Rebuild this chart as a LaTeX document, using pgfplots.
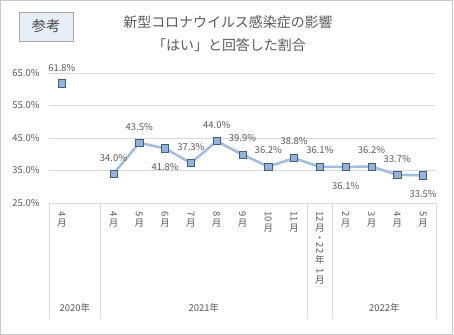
\documentclass[border=0pt]{standalone}
\usepackage{pgfplots}
\pgfplotsset{compat=1.18}
\usepackage{pgfplotstable}
\usepackage{graphicx}
\usepackage{fontspec}
\setmainfont{Noto Sans CJK JP}
\definecolor{txt}{HTML}{595959}
\definecolor{grd}{HTML}{D9D9D9}
\definecolor{lin}{HTML}{A3BDDB}
\definecolor{mfill}{HTML}{95B3D7}
\definecolor{mdraw}{HTML}{3F5F80}
\definecolor{boxfill}{HTML}{E8EEF6}
\pgfplotstableread{
x y d
0 61.8 15
1 nan 0
2 34.0 16
3 43.5 16
4 41.8 -19
5 37.3 16
6 44.0 16
7 39.9 17
8 36.2 17
9 38.8 17
10 36.1 17
11 36.1 -19
12 36.2 17
13 33.7 16
14 33.5 -19
}\datatable
\newcommand{\rn}[1]{\raisebox{\depth}{\rotatebox{-90}{#1}}}
\begin{document}
\begin{tikzpicture}
\useasboundingbox (0bp,0bp) rectangle (454bp,335bp);
\draw[grd!80!gray, line width=0.6pt] (0.5bp,0.5bp) rectangle (452.5bp,334.5bp);
\draw[fill=boxfill, draw=gray!70, line width=0.8pt] (19bp,294bp) rectangle (73bp,323bp);
\node[text=txt!80!black, font=\fontsize{14.5}{16}\selectfont] at (46bp,308.5bp) {参考};
\node[text=txt, font=\fontsize{14}{16}\selectfont] at (228bp,313bp) {新型コロナウイルス感染症の影響};
\node[text=txt, font=\fontsize{14}{16}\selectfont] at (229bp,290bp) {「はい」と回答した割合};
\begin{axis}[
  at={(49bp,132bp)}, anchor=south west,
  scale only axis, width=387bp, height=130bp,
  xmin=-0.5, xmax=14.5, ymin=25, ymax=65,
  ytick={25,35,45,55,65},
  yticklabel={\pgfmathprintnumber[fixed,precision=1,fixed zerofill]{\tick}\%},
  /pgf/number format/assume math mode=true,
  yticklabel style={text=txt, font=\fontsize{9.5}{10}\selectfont, xshift=-6bp},
  ymajorgrids, grid style={grd, line width=0.7pt},
  axis y line*=left, y axis line style={draw=none},
  axis x line*=bottom, x axis line style={grd, line width=0.7pt},
  ytick style={draw=none},
  xtick={0,...,14},
  xticklabels={{\rn{4}\\月},{},{\rn{4}\\月},{\rn{5}\\月},{\rn{6}\\月},{\rn{7}\\月},{\rn{8}\\月},{\rn{9}\\月},{\rn{10}\\月},{\rn{11}\\月},{\rn{12}\\月\\・\\\rn{22}\\年\\\rn{1}\\月},{\rn{2}\\月},{\rn{3}\\月},{\rn{4}\\月},{\rn{5}\\月}},
  xticklabel style={text=txt, font=\fontsize{9.5}{10}\selectfont, align=center, anchor=north, yshift=-5bp},
  xtick style={draw=none},
  extra x ticks={-0.5,1.5,9.5,10.5,14.5},
  extra x tick labels={},
  extra x tick style={grid=none, xtick style={draw=grd, line width=0.7pt}, tick align=outside, major tick length=116bp},
  clip=false,
  unbounded coords=jump,
  nodes near coords={\pgfmathprintnumber[fixed,precision=1,fixed zerofill]{\pgfplotspointmeta}\%},
  point meta=y,
  visualization depends on={\thisrow{d} \as \dy},
  nodes near coords style={anchor=center, yshift=\dy bp, text=txt, font=\fontsize{9.5}{10}\selectfont, /pgf/number format/assume math mode=true},
]
\addplot[lin, line width=2.6pt, mark=square*, mark size=3.6bp,
  mark options={fill=mfill, draw=mdraw, line width=0.8pt}] table[x=x,y=y] {\datatable};
\node[text=txt, font=\fontsize{9.5}{10}\selectfont] at (axis cs:0.5,25) [yshift=-105bp] {2020年};
\node[text=txt, font=\fontsize{9.5}{10}\selectfont] at (axis cs:5.5,25) [yshift=-105bp] {2021年};
\node[text=txt, font=\fontsize{9.5}{10}\selectfont] at (axis cs:12.5,25) [yshift=-105bp] {2022年};
\end{axis}
\end{tikzpicture}
\end{document}
